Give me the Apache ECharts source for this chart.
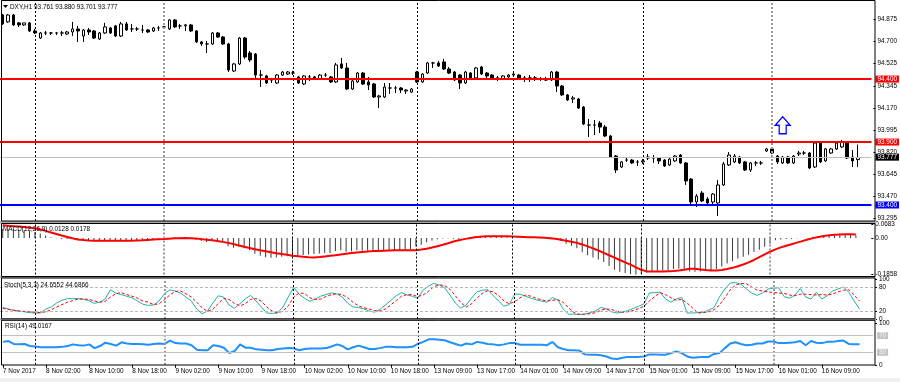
<!DOCTYPE html>
<html><head><meta charset="utf-8">
<script src="https://cdn.jsdelivr.net/npm/echarts@6/dist/echarts.min.js"></script>
<style>html,body{margin:0;padding:0;background:#fff}#c{width:900px;height:382px}</style>
</head><body><div id="c"></div>
<script>
// ---------------- data ----------------
const symbolName = 'DXY,H1';
const year = 2017;
// trading sessions: [day, first hour, last hour]
const sessions = [['7 Nov',18,23],['8 Nov',0,23],['9 Nov',0,23],['10 Nov',0,22],['13 Nov',6,23],['14 Nov',0,23],['15 Nov',0,23],['16 Nov',0,16]];

const openP = [
94.909,94.854,94.909,94.846,94.830,94.846,94.782,94.726,94.766,94.766,
94.766,94.766,94.758,94.774,94.798,94.742,94.790,94.782,94.718,94.766,
94.806,94.822,94.742,94.838,94.798,94.798,94.790,94.790,94.782,94.806,
94.814,94.798,94.869,94.822,94.822,94.830,94.782,94.695,94.679,94.679,
94.766,94.734,94.679,94.464,94.520,94.726,94.607,94.599,94.432,94.425,
94.393,94.369,94.432,94.440,94.448,94.417,94.361,94.417,94.417,94.401,
94.432,94.417,94.377,94.520,94.488,94.321,94.377,94.448,94.377,94.361,
94.258,94.258,94.329,94.329,94.329,94.305,94.297,94.456,94.377,94.448,
94.528,94.528,94.536,94.480,94.456,94.432,94.369,94.448,94.409,94.496,
94.448,94.432,94.409,94.401,94.417,94.432,94.432,94.409,94.409,94.409,
94.401,94.393,94.393,94.456,94.345,94.274,94.242,94.242,94.178,94.035,
94.035,94.051,94.019,93.948,93.789,93.702,93.757,93.757,93.742,93.742,
93.773,93.773,93.773,93.757,93.718,93.750,93.797,93.734,93.606,93.424,
93.495,93.447,93.424,93.416,93.559,93.718,93.742,93.781,93.742,93.678,
93.734,93.734,93.829,93.845,93.789,93.734,93.781,93.734,93.805,93.813,
93.813,93.702,93.892,93.750,93.813,93.845,93.861,93.892,93.781,93.761];
const closeP = [
94.838,94.909,94.830,94.830,94.846,94.782,94.766,94.766,94.766,94.766,
94.766,94.766,94.774,94.798,94.782,94.790,94.774,94.726,94.766,94.814,
94.766,94.742,94.838,94.790,94.798,94.798,94.790,94.774,94.806,94.806,
94.814,94.869,94.814,94.822,94.830,94.782,94.695,94.679,94.679,94.766,
94.734,94.679,94.472,94.520,94.726,94.575,94.552,94.432,94.432,94.369,
94.393,94.432,94.456,94.456,94.448,94.369,94.425,94.417,94.409,94.432,
94.432,94.377,94.512,94.488,94.321,94.385,94.448,94.361,94.353,94.258,
94.266,94.337,94.329,94.329,94.313,94.313,94.321,94.377,94.440,94.528,
94.528,94.504,94.480,94.448,94.393,94.369,94.456,94.401,94.488,94.440,
94.425,94.409,94.409,94.425,94.432,94.440,94.401,94.409,94.409,94.409,
94.401,94.393,94.456,94.345,94.274,94.234,94.250,94.170,94.043,94.035,
94.035,94.019,93.948,93.781,93.678,93.742,93.757,93.734,93.742,93.750,
93.781,93.773,93.750,93.710,93.765,93.789,93.734,93.591,93.424,93.471,
93.432,93.416,93.487,93.559,93.726,93.797,93.789,93.734,93.678,93.734,
93.734,93.734,93.845,93.813,93.742,93.781,93.734,93.789,93.813,93.813,
93.694,93.892,93.742,93.845,93.845,93.892,93.900,93.773,93.750,93.777];
const highP = [
94.917,94.917,94.917,94.854,94.846,94.854,94.798,94.774,94.782,94.774,
94.774,94.782,94.782,94.854,94.822,94.798,94.806,94.790,94.774,94.846,
94.814,94.830,94.854,94.854,94.838,94.814,94.830,94.798,94.814,94.822,
94.822,94.877,94.877,94.838,94.838,94.838,94.790,94.703,94.703,94.774,
94.774,94.742,94.687,94.528,94.734,94.734,94.623,94.607,94.472,94.432,
94.409,94.440,94.464,94.464,94.464,94.425,94.432,94.432,94.425,94.440,
94.448,94.425,94.528,94.568,94.528,94.393,94.456,94.456,94.417,94.369,
94.274,94.369,94.369,94.345,94.337,94.321,94.329,94.464,94.448,94.536,
94.536,94.544,94.560,94.496,94.464,94.440,94.464,94.456,94.496,94.504,
94.456,94.440,94.425,94.432,94.440,94.448,94.440,94.425,94.432,94.425,
94.417,94.417,94.464,94.464,94.353,94.282,94.266,94.250,94.186,94.083,
94.075,94.067,94.035,93.956,93.797,93.750,93.773,93.765,93.757,93.765,
93.805,93.797,93.781,93.765,93.773,93.797,93.805,93.742,93.614,93.487,
93.511,93.463,93.495,93.598,93.742,93.821,93.805,93.789,93.750,93.742,
93.750,93.750,93.853,93.853,93.797,93.789,93.789,93.797,93.829,93.829,
93.821,93.900,93.900,93.853,93.853,93.900,93.916,93.900,93.837,93.880];
const lowP = [
94.830,94.846,94.822,94.814,94.822,94.774,94.758,94.718,94.750,94.750,
94.750,94.742,94.750,94.742,94.695,94.695,94.750,94.718,94.711,94.758,
94.758,94.734,94.734,94.782,94.774,94.782,94.766,94.766,94.774,94.782,
94.798,94.790,94.806,94.798,94.782,94.774,94.687,94.663,94.607,94.671,
94.726,94.671,94.456,94.456,94.512,94.560,94.536,94.409,94.337,94.361,
94.369,94.361,94.425,94.432,94.432,94.361,94.353,94.385,94.401,94.393,
94.417,94.369,94.369,94.480,94.313,94.313,94.369,94.353,94.313,94.250,
94.170,94.250,94.282,94.289,94.289,94.282,94.289,94.369,94.369,94.440,
94.488,94.496,94.472,94.440,94.385,94.321,94.361,94.393,94.401,94.432,
94.401,94.401,94.385,94.393,94.409,94.425,94.393,94.377,94.377,94.385,
94.385,94.385,94.385,94.297,94.266,94.226,94.210,94.162,94.035,93.940,
93.956,93.972,93.940,93.773,93.654,93.694,93.742,93.726,93.710,93.726,
93.757,93.734,93.726,93.702,93.710,93.742,93.726,93.559,93.392,93.384,
93.424,93.400,93.408,93.313,93.551,93.710,93.734,93.726,93.670,93.662,
93.710,93.718,93.821,93.805,93.726,93.726,93.726,93.726,93.789,93.797,
93.686,93.694,93.734,93.742,93.805,93.837,93.853,93.765,93.702,93.701];

const macdMain = [
0.045,0.044,0.043,0.041,0.040,0.037,0.030,0.022,0.012,0.004,
-0.002,-0.005,-0.006,-0.005,-0.008,-0.012,-0.013,-0.016,-0.016,-0.013,
-0.014,-0.016,-0.012,-0.013,-0.013,-0.013,-0.013,-0.014,-0.012,-0.011,
-0.010,-0.002,0.002,0.002,0.001,-0.003,-0.010,-0.016,-0.020,-0.016,
-0.018,-0.022,-0.042,-0.050,-0.044,-0.052,-0.062,-0.080,-0.090,-0.098,
-0.101,-0.099,-0.096,-0.093,-0.090,-0.091,-0.087,-0.084,-0.082,-0.079,
-0.076,-0.076,-0.066,-0.062,-0.070,-0.068,-0.062,-0.065,-0.064,-0.070,
-0.072,-0.068,-0.066,-0.064,-0.062,-0.060,-0.058,-0.044,-0.035,-0.022,
-0.013,-0.007,-0.003,-0.002,-0.004,-0.006,-0.001,0.002,0.008,0.009,
0.009,0.007,0.006,0.006,0.006,0.006,0.004,0.003,0.002,0.002,
0.001,0.000,0.004,-0.004,-0.016,-0.030,-0.040,-0.053,-0.073,-0.088,
-0.100,-0.110,-0.122,-0.142,-0.162,-0.172,-0.178,-0.183,-0.1858,-0.182,
-0.176,-0.172,-0.168,-0.166,-0.163,-0.158,-0.155,-0.160,-0.170,-0.172,
-0.170,-0.168,-0.165,-0.158,-0.145,-0.130,-0.118,-0.105,-0.095,-0.085,
-0.072,-0.060,-0.045,-0.030,-0.012,-0.008,-0.006,-0.004,-0.002,0.000,
-0.002,0.006,0.008,0.012,0.014,0.018,0.021,0.018,0.015,0.0128];
const macdSignal = [
0.064,0.062,0.060,0.058,0.055,0.052,0.049,0.043,0.036,0.028,
0.020,0.012,0.005,-0.002,-0.008,-0.011,-0.013,-0.014,-0.014,-0.014,
-0.014,-0.014,-0.014,-0.014,-0.014,-0.013,-0.012,-0.010,-0.008,-0.007,
-0.006,-0.004,-0.002,-0.001,0.000,-0.001,-0.003,-0.006,-0.009,-0.012,
-0.016,-0.020,-0.025,-0.031,-0.038,-0.045,-0.051,-0.057,-0.063,-0.068,
-0.073,-0.078,-0.082,-0.086,-0.090,-0.093,-0.096,-0.098,-0.099,-0.097,
-0.094,-0.091,-0.088,-0.084,-0.080,-0.077,-0.074,-0.071,-0.069,-0.067,
-0.066,-0.065,-0.064,-0.063,-0.063,-0.063,-0.063,-0.062,-0.059,-0.055,
-0.049,-0.042,-0.035,-0.027,-0.018,-0.012,-0.006,-0.001,0.003,0.006,
0.008,0.009,0.009,0.009,0.008,0.007,0.006,0.005,0.004,0.003,
0.002,0.001,-0.001,-0.004,-0.009,-0.014,-0.019,-0.025,-0.033,-0.043,
-0.053,-0.064,-0.076,-0.088,-0.100,-0.112,-0.124,-0.136,-0.150,-0.162,
-0.170,-0.171,-0.171,-0.170,-0.169,-0.168,-0.166,-0.162,-0.157,-0.157,
-0.160,-0.163,-0.165,-0.166,-0.163,-0.158,-0.152,-0.144,-0.135,-0.124,
-0.112,-0.098,-0.084,-0.070,-0.058,-0.048,-0.040,-0.032,-0.024,-0.016,
-0.008,-0.001,0.005,0.010,0.014,0.016,0.018,0.019,0.019,0.0178];
const stochK = [
29,25,22,20,18,16,15,15,25,30,
40,47,51,51,51,49,46,39,42,50,
73,65,61,57,53,45,37,34,35,45,
63,73,70,65,55,45,25,13,20,40,
58,55,35,27,38,50,59,45,30,15,
14,15,30,55,79,62,52,44,50,57,
61,65,63,55,40,30,29,25,20,17,
24,35,46,58,66,60,57,52,72,82,
89,85,78,60,40,27,35,52,68,72,
73,59,45,32,36,62,62,57,52,48,
45,42,54,48,25,12,12,11,12,16,
20,29,25,18,15,17,21,26,32,38,
65,66,67,50,42,50,54,15,15,16,
17,22,29,55,75,90,91,87,75,65,
59,65,75,77,78,56,52,60,76,55,
50,67,50,58,70,75,80,67,45,24.6552];
const stochD = [
27,24,22,20,19,18,17,16,18,23,
30,36,42,46,50,50,49,45,42,44,
55,63,66,61,57,52,45,42,36,38,
48,60,69,70,63,55,42,28,19,24,
39,51,49,39,33,38,49,51,45,30,
20,15,20,33,55,65,64,53,49,50,
56,61,63,61,53,42,33,28,25,21,
20,25,35,46,57,61,61,56,60,69,
81,85,84,74,58,41,30,38,52,64,
71,68,59,45,38,43,53,60,57,52,
48,45,47,48,42,28,16,12,12,13,
16,22,25,24,19,17,18,21,26,32,
45,56,66,61,53,47,49,40,28,15,
16,18,23,35,53,73,85,89,88,80,
72,70,68,66,65,64,60,58,62,62,
61,60,61,60,62,68,72,73,60,44.6866];
const rsi = [
55,57,50,49,50,45,44,42,42,42,
42,43,45,49,47,46,49,40,45,53,
50,46,54,51,50,50,49,48,50,51,
50,58,52,51,51,47,36,35,35,47,
45,41,28,33,49,41,41,37,36,35,
35,38,39,40,39.5,35,38,39,39,39,
40,44,49,45,37,42,46,42,38,38,
40,43,43,42,42,42,43,50,55,61,
61,60,59,54,50,46,51,49,55,53,
50,49,47,49,52,52,48,48,48,48,
48,47,55,42,38,35,35,34,25,24,
24,23,20,15,14,17,19,19,19,20,
25,25,24,24,28,32,28,20,17,18,
19,19,26,28,40,51,54,50,47,48,
51,51,56,56,52,52,53,54,57,47,
57,53,52,55,55,57,58,50,49,49.0167];

const priceTicks = [94.875, 94.700, 94.525, 94.345, 94.170, 93.995, 93.820, 93.645, 93.470, 93.295];
const macdTicks = [0.0683, 0, -0.1858];
const stochTicks = [100, 80, 20, 0];
const rsiTicks = [100, 0];
const stochLevels = [80, 20];
const rsiLevels = [70, 30];
const resistanceLines = [94.400, 93.900];
const supportLines = [93.400];
const arrowMarks = [{bar: 145, price: 94.033}];

// ---------------- build ----------------
const last = openP.length - 1;
const categories = [];
const separators = [];
sessions.forEach(([day, h0, h1], si) => {
  for (let h = h0; h <= h1; h++) {
    if (h === h0 && si > 0) separators.push(categories.length);
    categories.push(day + ' ' + String(h).padStart(2, '0') + ':00');
  }
});
const axisCats = categories.concat(['+1', '+2']); // chart shift space on the right
const graySepDays = ['9 Nov', '16 Nov'];
const candles = openP.map((o, i) => [o, closeP[i], lowP[i], highP[i]]);

const FONT = 'Liberation Sans';
const FS = 6.4;
const sepData = separators.map(idx => {
  const day = categories[idx].split(' ').slice(0, 2).join(' ');
  const gray = graySepDays.includes(day);
  return { xAxis: axisCats[idx], lineStyle: gray ? {color:'#9a9a9a', width:2, type:[2,2]} : {color:'#000', width:1, type:[2,2]}, label:{show:false} };
});
const tag = (v, bg, lineColor, width) => ({
  yAxis: v,
  lineStyle: {color: lineColor, width: width, type: 'solid'},
  label: {show: true, position: 'end', distance: 4, formatter: () => v.toFixed(3),
          color: '#fff', backgroundColor: bg, padding: [1, 2, 0, 2], fontSize: FS, fontFamily: FONT}
});
const mkLine = data => ({ silent: true, symbol: ['none', 'none'], animation: false, data: data });
const levelLine = (v, withLabel) => ({
  yAxis: v,
  lineStyle: withLabel ? {color: '#c0c0c0', width: 1, type: 'solid'} : {color: '#b8b8b8', width: 1, type: [3, 2]},
  label: withLabel ? {show: true, position: 'end', distance: 4, formatter: String(v), color: '#f4f4f4',
                      backgroundColor: '#c4c4c4', padding: [1, 2, 0, 2], fontSize: FS, fontFamily: FONT}
                   : {show: false}
});

const grids = [
  {left: -1, right: 27, top: 2, height: 219},
  {left: -1, right: 27, top: 224.5, height: 50},
  {left: -1, right: 27, top: 279, height: 40},
  {left: -1, right: 27, top: 323.1, height: 41.7}
];
const xAxes = grids.map((g, i) => ({
  gridIndex: i, type: 'category', data: axisCats, boundaryGap: true,
  axisLine: {show: false},
  axisTick: i === 3 ? {show: true, alignWithLabel: true, length: 3, lineStyle: {color: '#000'},
                       interval: (idx) => idx % 8 === 0 && idx < categories.length} : {show: false},
  axisLabel: i === 3 ? {show: true, interval: (idx) => idx % 8 === 0 && idx < categories.length,
                        formatter: (v, idx) => idx === 0 ? sessions[0][0] + ' ' + year : v,
                        align: 'left', margin: 3, fontSize: FS, fontFamily: FONT, color: '#000'} : {show: false},
  splitLine: {show: false}
}));
const yBase = (i, min, max, ticks, fmt) => ({
  gridIndex: i, type: 'value', position: 'right', offset: 2, min: min, max: max,
  splitLine: {show: false}, axisLine: {show: false},
  axisTick: {show: true, length: 2, lineStyle: {color: '#000'}, customValues: ticks},
  axisLabel: {customValues: ticks, formatter: fmt, fontSize: FS, fontFamily: FONT, color: '#000', margin: 4}
});
const yAxes = [
  yBase(0, 93.273, 95.012, priceTicks, v => (+v).toFixed(3)),
  yBase(1, -0.1858, 0.0683, macdTicks, v => v === 0 ? '0.00' : (+v).toFixed(4)),
  yBase(2, 0, 100, stochTicks, v => String(Math.round(v))),
  yBase(3, 0, 100, rsiTicks, v => String(Math.round(v)))
];

const fmt3 = v => v.toFixed(3);
const texts = [
  {x: 10, y: 6.8, t: symbolName + ' ' + fmt3(openP[last]) + ' ' + fmt3(highP[last]) + ' ' + fmt3(lowP[last]) + ' ' + fmt3(closeP[last])},
  {x: 3, y: 229.5, t: 'MACD(12,26,9) ' + macdMain[last].toFixed(4) + ' ' + macdSignal[last].toFixed(4)},
  {x: 4, y: 284.8, t: 'Stoch(5,3,3) ' + stochK[last].toFixed(4) + ' ' + stochD[last].toFixed(4)},
  {x: 5, y: 326.6, t: 'RSI(14) ' + rsi[last].toFixed(4)}
];

const frame = (y0, y1) => ({type: 'rect', silent: true, z: 60,
  shape: {x: 1.5, y: y0, width: 873.5, height: y1 - y0}, style: {fill: 'none', stroke: '#000', lineWidth: 1}});
const band = (y0, h) => ({type: 'rect', silent: true, z: 59,
  shape: {x: 0, y: y0, width: 876, height: h}, style: {fill: '#a8a8a8'}});

const mainMarks = sepData.concat(
  [tag(closeP[last], '#000', '#c0c0c0', 1)],
  resistanceLines.map(v => tag(v, '#ff0000', '#ff0000', 2)),
  supportLines.map(v => tag(v, '#0000ff', '#0000ff', 2))
);
const stochMarks = sepData.concat(stochLevels.map(v => levelLine(v, false)));
const rsiMarks = sepData.concat(rsiLevels.map(v => levelLine(v, true)));

const option = {
  animation: false,
  backgroundColor: '#fff',
  textStyle: {fontFamily: FONT},
  grid: grids,
  xAxis: xAxes,
  yAxis: yAxes,
  series: [
    {type: 'candlestick', xAxisIndex: 0, yAxisIndex: 0, data: candles, barWidth: 3,
     itemStyle: {color: '#fff', color0: '#000', borderColor: '#000', borderColor0: '#000', borderWidth: 1},
     markLine: mkLine(mainMarks),
     markPoint: {silent: true, animation: false,
       symbol: 'path://M7.5,0L15,8.5L11,8.5L11,17L4,17L4,8.5L0,8.5Z', symbolSize: [15, 17],
       itemStyle: {color: '#fff', borderColor: '#0000ff', borderWidth: 1.3}, label: {show: false},
       data: arrowMarks.map(a => ({coord: [axisCats[a.bar], a.price]}))}
    },
    {type: 'bar', xAxisIndex: 1, yAxisIndex: 1, data: macdMain, barWidth: 1,
     itemStyle: {color: '#3a3a3a'}, markLine: mkLine(sepData)},
    {type: 'line', xAxisIndex: 1, yAxisIndex: 1, data: macdSignal, symbol: 'none',
     lineStyle: {color: '#ff0000', width: 2}},
    {type: 'line', xAxisIndex: 2, yAxisIndex: 2, data: stochK, symbol: 'none',
     lineStyle: {color: '#20b2aa', width: 1}, markLine: mkLine(stochMarks)},
    {type: 'line', xAxisIndex: 2, yAxisIndex: 2, data: stochD, symbol: 'none',
     lineStyle: {color: '#ff0000', width: 1, type: [3, 2]}},
    {type: 'line', xAxisIndex: 3, yAxisIndex: 3, data: rsi, symbol: 'none',
     lineStyle: {color: '#1e90ff', width: 2}, markLine: mkLine(rsiMarks)}
  ],
  graphic: {elements: [
    band(221, 2.5), band(276.5, 1.5), band(318.8, 1.5),
    frame(0.5, 221), frame(223.5, 276.5), frame(278, 318.8), frame(320.3, 365),
    {type: 'rect', silent: true, z: 1, shape: {x: 0, y: 378, width: 900, height: 4}, style: {fill: '#f0f0f0'}},
    {type: 'polygon', silent: true, z: 61, shape: {points: [[3, 5], [8, 5], [5.5, 8]]}, style: {fill: '#000'}}
  ].concat(texts.map(t => ({type: 'text', silent: true, z: 61, x: t.x, y: t.y,
      style: {text: t.t, fill: '#000', font: FS + 'px "' + FONT + '"', verticalAlign: 'middle', align: 'left'}})))}
};
const chart = echarts.init(document.getElementById('c'));
chart.setOption(option);
</script>
</body></html>
